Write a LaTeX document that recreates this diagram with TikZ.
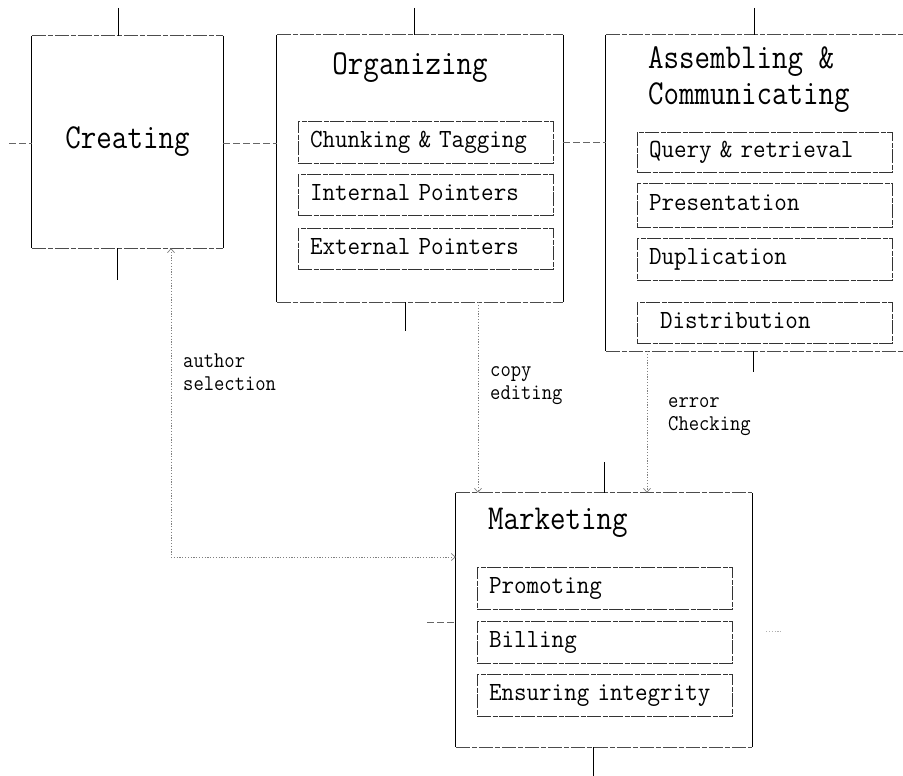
\documentclass[tikz,border=0pt]{standalone}
\usepackage{fontspec}
\usepackage{graphicx}
\usetikzlibrary{arrows.meta}
\newcommand\sq[1]{\scalebox{0.86}[1]{#1}}
\newcommand\sqs[1]{\scalebox{0.93}[1]{#1}}
\newcommand\sql[1]{\scalebox{0.89}[1]{#1}}
\newcommand\bigfnt{\ttfamily\fontsize{35}{31}\selectfont}
\newcommand\smallfnt{\ttfamily\fontsize{26.2}{28}\selectfont}
\newcommand\lblfnt{\ttfamily\fontsize{22.5}{21}\selectfont}
\newcommand\boxedges[1]{%
  \draw[vline] (#1.north west) -- (#1.south west) (#1.north east) -- (#1.south east);
  \draw[hline] (#1.north west) -- (#1.north east) (#1.south west) -- (#1.south east);}
\tikzset{
  vline/.style={draw=black, line width=0.9pt},
  hline/.style={draw=black!70, line width=0.8pt, dash pattern=on 14pt off 2pt on 5pt off 2pt},
  outer/.style={inner sep=0pt, draw=none},
  subbox/.style={draw=black!80, line width=0.7pt, dash pattern=on 14pt off 1.5pt on 5pt off 1.5pt,
    inner xsep=12pt, inner ysep=0pt, text width=231pt, align=left, font=\smallfnt,
    text height=16pt, text depth=5pt},
  vstub/.style={draw=black, line width=1pt},
  hstub/.style={draw=black!60, line width=0.8pt, dash pattern=on 7pt off 3pt},
  flow/.style={draw=black!50, line width=0.8pt, dash pattern=on 1.2pt off 1.6pt},
  tip/.tip={Straight Barb[length=4pt,width=7pt,line width=0.7pt]},
  title/.style={font=\bigfnt, inner sep=0pt, text height=22pt, text depth=6pt},
  lbl/.style={font=\lblfnt, inner sep=0pt, text height=13pt, text depth=4pt},
}
\begin{document}
\begin{tikzpicture}[x=1pt,y=-1pt]
\useasboundingbox (0,0) rectangle (903,776);
\clip (0,0) rectangle (903,776);

% outer boxes
\node[outer, minimum width=191pt, minimum height=212pt] (creating) at (127.5,142) {};
\node[outer, minimum width=286pt, minimum height=267pt] (org) at (420,168.5) {};
\node[outer, minimum width=314pt, minimum height=316pt] (asm) at (763,193) {};
\node[outer, minimum width=296pt, minimum height=254pt] (mkt) at (604,620) {};
\boxedges{creating}
\boxedges{org}
\boxedges{mkt}
\draw[vline] (asm.north west) -- (asm.south west);
\draw[hline] (asm.north west) -- (asm.north east) (asm.south west) -- (asm.south east);

% titles
\node[title, anchor=base] (creatingt) at (127.5,148) {\sq{Creating}};
\node[title, anchor=base] (orgt) at (410,75) {\sq{Organizing}};
\node[title, anchor=base west] (asmt1) at (648,69) {\sq{Assembling \&}};
\node[title, anchor=base west] (asmt2) at (648,105) {\sq{Communicating}};
\node[title, anchor=base west] (mktt) at (488,529) {\sq{Marketing}};

% sub boxes
\node[subbox, minimum height=42pt] (chunk) at (425.5,142) {\sqs{Chunking \& Tagging}};
\node[subbox, minimum height=41pt] (intp) at (425.5,194.5) {\sqs{Internal Pointers}};
\node[subbox, minimum height=41pt] (extp) at (425.5,248.5) {\sqs{External Pointers}};

\node[subbox, minimum height=40pt] (query) at (764.5,152) {\sqs{Query \& retrieval}};
\node[subbox, minimum height=44pt] (pres) at (764.5,205) {\sqs{Presentation}};
\node[subbox, minimum height=42pt] (dupl) at (764.5,259) {\sqs{Duplication}};
\node[subbox, minimum height=41pt] (dist) at (764.5,322.5) {\hspace*{11pt}\sqs{Distribution}};

\node[subbox, minimum height=42pt] (promo) at (604.5,588) {\sqs{Promoting}};
\node[subbox, minimum height=42pt] (bill) at (604.5,642) {\sqs{Billing}};
\node[subbox, minimum height=42pt] (ensure) at (604.5,695) {\sqs{Ensuring integrity}};

% stubs
\coordinate (ctop) at (118,8);
\coordinate (cbot) at (117,280);
\coordinate (cleft) at (9,143);
\draw[vstub] (ctop) -- (ctop |- creating.north);
\draw[vstub] (creating.south -| cbot) -- (cbot);
\draw[hstub] (cleft) -- (cleft -| creating.west);
\draw[hstub] (creating.east |- cleft) -- (org.west |- cleft);

\coordinate (otop) at (414,8);
\coordinate (obot) at (405,331);
\draw[vstub] (otop) -- (otop |- org.north);
\draw[vstub] (org.south -| obot) -- (obot);
\draw[hstub] (org.east |- chunk) -- (asm.west |- chunk);

\coordinate (atop) at (754,8);
\coordinate (abot) at (753,372);
\draw[vstub] (atop) -- (atop |- asm.north);
\draw[vstub] (asm.south -| abot) -- (abot);

\coordinate (mtop) at (604,462);
\coordinate (mbot) at (593,776);
\coordinate (mleft) at (427,622);
\coordinate (mright) at (782,631);
\draw[vstub] (mtop) -- (mtop |- mkt.north);
\draw[vstub] (mkt.south -| mbot) -- (mbot);
\draw[hstub] (mleft) -- (mleft -| mkt.west);
\draw[flow, draw=black!30] (mkt.east |- mright) ++(14,0) -- (mright);

% flows
\coordinate (asel) at (171,557);
\coordinate (cedx) at (478,0);
\coordinate (eckx) at (647,0);
\draw[flow, tip-tip] (creating.south -| asel) -- (asel) -- (mkt.west |- asel);
\draw[flow, -tip] (org.south -| cedx) -- (mkt.north -| cedx);
\draw[flow, -tip] (asm.south -| eckx) -- (mkt.north -| eckx);

% labels
\node[lbl, anchor=base west] (auth1) at (183,367) {\sql{author}};
\node[lbl, anchor=base west] (auth2) at (183,390) {\sql{selection}};
\node[lbl, anchor=base west] (copy1) at (490,376) {\sql{copy}};
\node[lbl, anchor=base west] (copy2) at (490,399) {\sql{editing}};
\node[lbl, anchor=base west] (err1) at (668,407) {\sql{error}};
\node[lbl, anchor=base west] (err2) at (668,430) {\sql{Checking}};
\end{tikzpicture}
\end{document}
